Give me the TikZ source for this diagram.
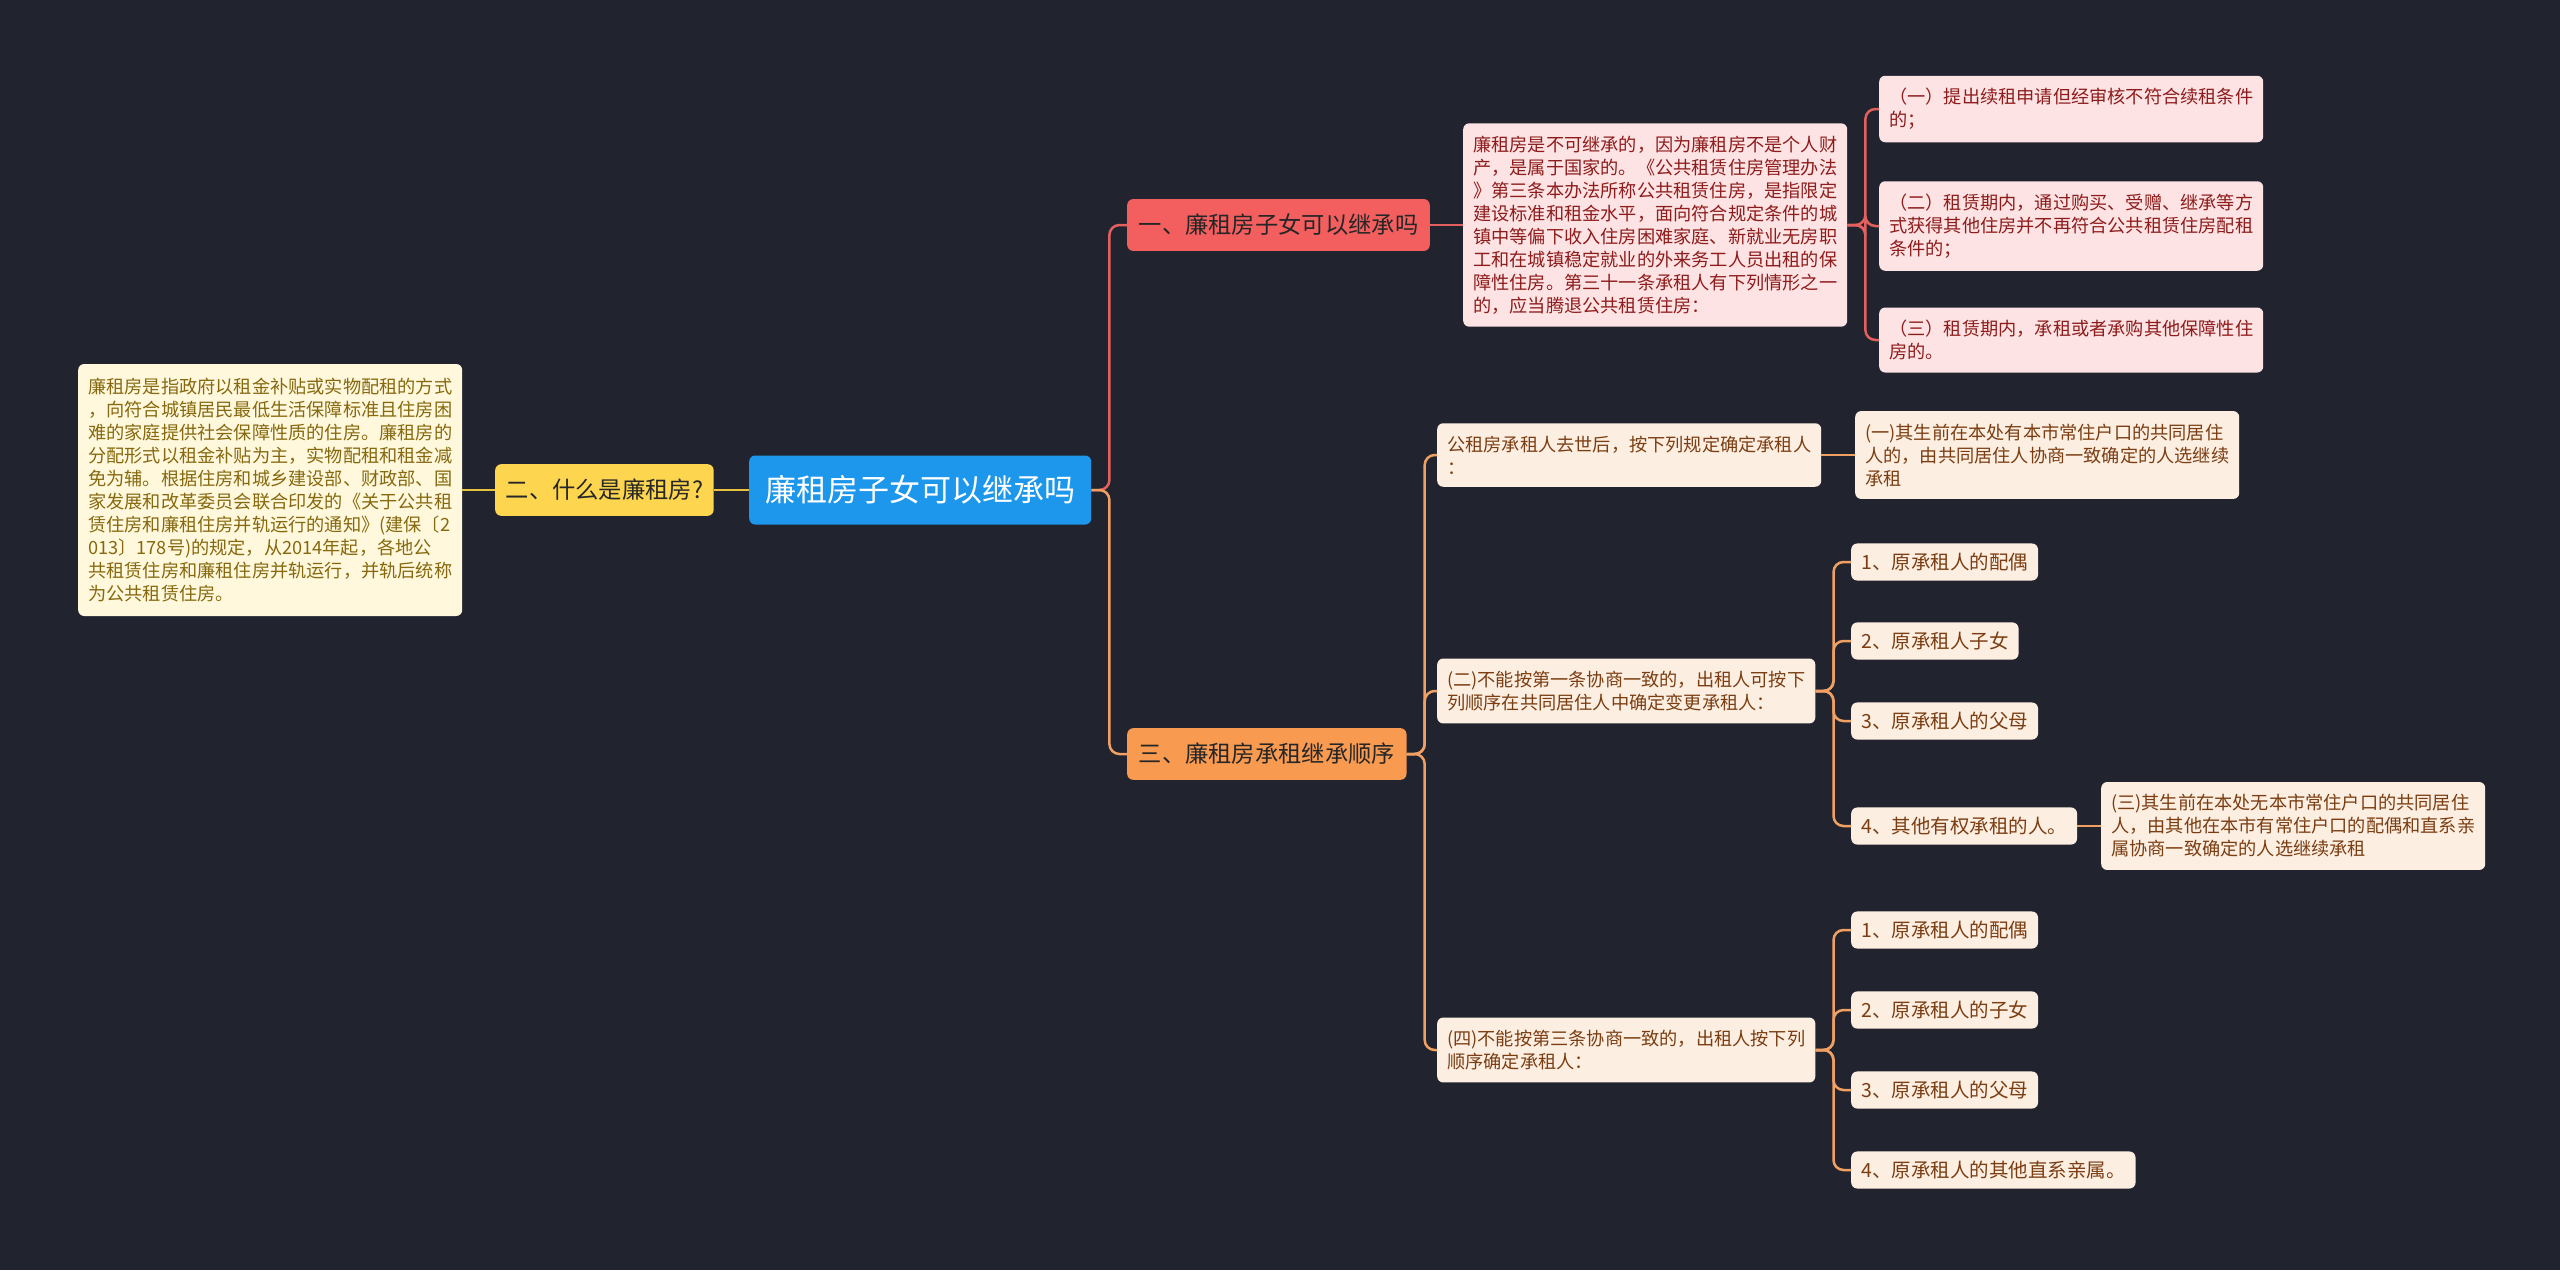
\documentclass[tikz,border=0pt]{standalone}
\usepackage{fontspec}
\setmainfont{Noto Sans CJK SC}
\definecolor{bg}{HTML}{21242F}
\definecolor{rootblue}{HTML}{1D97EC}
\definecolor{ybr}{HTML}{FDD54E}
\definecolor{ytxt}{HTML}{FFF8DC}
\definecolor{yink}{HTML}{86690F}
\definecolor{rbr}{HTML}{F35F5F}
\definecolor{rtxt}{HTML}{FDE3E3}
\definecolor{rink}{HTML}{8E1C1C}
\definecolor{obr}{HTML}{F89A50}
\definecolor{otxt}{HTML}{FDEEE2}
\definecolor{oink}{HTML}{7A3E12}
\definecolor{rl}{HTML}{E4605E}
\definecolor{ol}{HTML}{F0A062}
\definecolor{yl}{HTML}{E8C23E}
\tikzset{
 box/.style={rounded corners=6pt,align=left,anchor=west,inner xsep=10pt,inner ysep=12.5pt,
   font=\fontsize{18.2}{23}\selectfont},
 rootbox/.style={box,fill=rootblue,text=white,font=\fontsize{31}{36}\selectfont,inner xsep=16pt,inner ysep=20pt},
 branch/.style={box,text=black!85,font=\fontsize{23.3}{28}\selectfont,inner xsep=11.5pt,inner ysep=15pt},
 ybranch/.style={branch,fill=ybr,inner xsep=10.5pt},
 rbranch/.style={branch,fill=rbr},
 obranch/.style={branch,fill=obr},
 ytext/.style={box,fill=ytxt,text=yink,inner ysep=14pt},
 rtext/.style={box,fill=rtxt,text=rink},
 otext/.style={box,fill=otxt,text=oink},
 oleaf/.style={otext,font=\fontsize{19.5}{24}\selectfont,inner xsep=10pt,inner ysep=9.5pt},
 link/.style={line width=2.5pt,rounded corners=10pt},
 rline/.style={link,draw=rl},
 oline/.style={link,draw=ol},
 yline/.style={link,draw=yl}
}
\begin{document}
\begin{tikzpicture}[x=1pt,y=-1pt]
\fill[bg] (0,0) rectangle (2560,1270);
\useasboundingbox (0,0) rectangle (2560,1270);
\node[rootbox] (root) at (749,490) {廉租房子女可以继承吗};
\node[ybranch] (b2) at (495,490) {二、什么是廉租房?};
\node[ytext] (t2) at (78,490) {廉租房是指政府以租金补贴或实物配租的方式\\，向符合城镇居民最低生活保障标准且住房困\\难的家庭提供社会保障性质的住房。廉租房的\\分配形式以租金补贴为主，实物配租和租金减\\免为辅。根据住房和城乡建设部、财政部、国\\家发展和改革委员会联合印发的《关于公共租\\赁住房和廉租住房并轨运行的通知》(建保〔2\\013〕178号)的规定，从2014年起，各地公\\共租赁住房和廉租住房并轨运行，并轨后统称\\为公共租赁住房。};
\node[rbranch] (b1) at (1127,225) {一、廉租房子女可以继承吗};
\node[rtext] (t1) at (1463,225) {廉租房是不可继承的，因为廉租房不是个人财\\产，是属于国家的。《公共租赁住房管理办法\\》第三条本办法所称公共租赁住房，是指限定\\建设标准和租金水平，面向符合规定条件的城\\镇中等偏下收入住房困难家庭、新就业无房职\\工和在城镇稳定就业的外来务工人员出租的保\\障性住房。第三十一条承租人有下列情形之一\\的，应当腾退公共租赁住房：};
\node[rtext] (r1) at (1879,109) {（一）提出续租申请但经审核不符合续租条件\\的；};
\node[rtext] (r2) at (1879,226) {（二）租赁期内，通过购买、受赠、继承等方\\式获得其他住房并不再符合公共租赁住房配租\\条件的；};
\node[rtext] (r3) at (1879,340) {（三）租赁期内，承租或者承购其他保障性住\\房的。};
\node[obranch] (b3) at (1127,754) {三、廉租房承租继承顺序};
\node[otext] (o1) at (1437,455) {公租房承租人去世后，按下列规定确定承租人\\：};
\node[otext] (o1a) at (1855,455) {(一)其生前在本处有本市常住户口的共同居住\\人的，由共同居住人协商一致确定的人选继续\\承租};
\node[otext] (o2) at (1437,691) {(二)不能按第一条协商一致的，出租人可按下\\列顺序在共同居住人中确定变更承租人：};
\node[oleaf] (o2a) at (1851,562) {1、原承租人的配偶};
\node[oleaf] (o2b) at (1851,641) {2、原承租人子女};
\node[oleaf] (o2c) at (1851,721) {3、原承租人的父母};
\node[oleaf] (o2d) at (1851,826) {4、其他有权承租的人。};
\node[otext] (o2e) at (2101,826) {(三)其生前在本处无本市常住户口的共同居住\\人，由其他在本市有常住户口的配偶和直系亲\\属协商一致确定的人选继续承租};
\node[otext] (o4) at (1437,1050) {(四)不能按第三条协商一致的，出租人按下列\\顺序确定承租人：};
\node[oleaf] (o4a) at (1851,930) {1、原承租人的配偶};
\node[oleaf] (o4b) at (1851,1010) {2、原承租人的子女};
\node[oleaf] (o4c) at (1851,1090) {3、原承租人的父母};
\node[oleaf] (o4d) at (1851,1170) {4、原承租人的其他直系亲属。};
\draw[yline] (root.west) -- (b2.east) (b2.west) -- (t2.east);
\draw[rline] (root.east) -- ++(18,0) |- (b1.west);
\draw[oline] (root.east) -- ++(18,0) |- (b3.west);
\draw[rline] (b1.east) -- (t1.west);
\foreach \n in {r1,r2,r3} \draw[rline] (t1.east) -- ++(18,0) |- (\n.west);
\foreach \n in {o1,o2,o4} \draw[oline] (b3.east) -- ++(18,0) |- (\n.west);
\draw[oline] (o1.east) -- (o1a.west) (o2d.east) -- (o2e.west);
\foreach \n in {o2a,o2b,o2c,o2d} \draw[oline] (o2.east) -- ++(18,0) |- (\n.west);
\foreach \n in {o4a,o4b,o4c,o4d} \draw[oline] (o4.east) -- ++(18,0) |- (\n.west);
\end{tikzpicture}
\end{document}
